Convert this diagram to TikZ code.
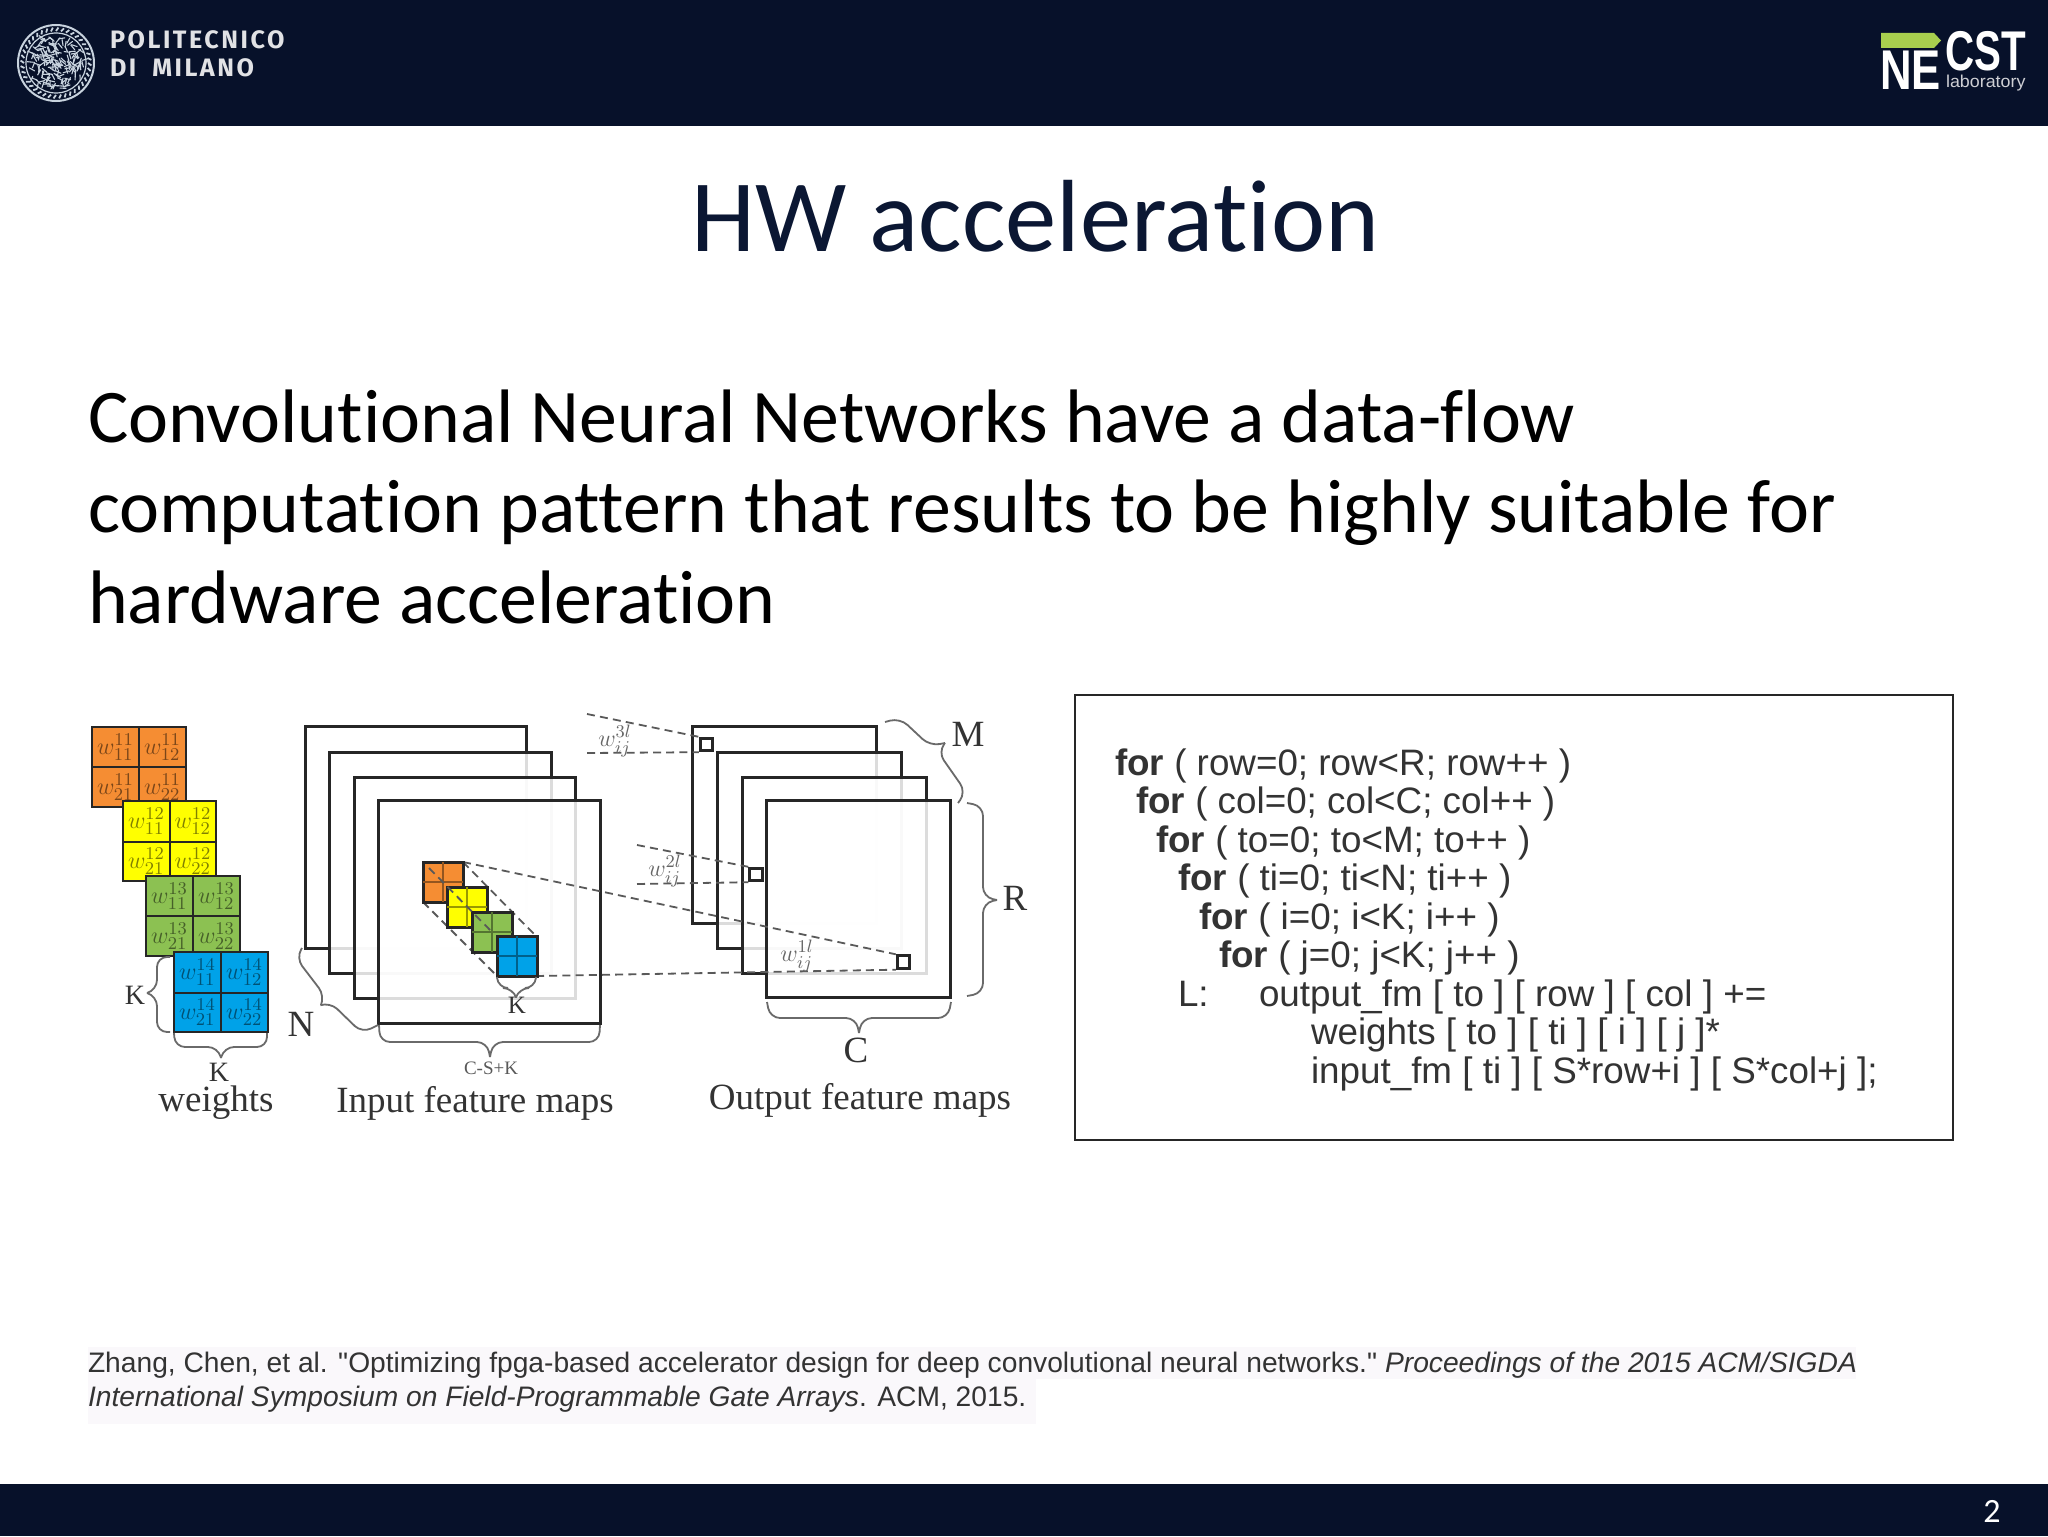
\documentclass[tikz,border=0pt]{standalone}
\usepackage{fontspec}
\setmainfont{Carlito}[Ligatures={NoCommon}]
\newfontfamily\arialf{Liberation Sans}
\newfontfamily\timesf{Liberation Serif}
\newfontfamily\logof{Fira Sans}[LetterSpace=10]
\usetikzlibrary{calc}
\definecolor{navy}{HTML}{07112A}
\definecolor{titlec}{HTML}{0B1733}
\definecolor{seal}{HTML}{C8D3DE}
\definecolor{lime}{HTML}{A8CF4E}
\definecolor{ink}{HTML}{333333}
\definecolor{brc}{HTML}{6A6A6A}
\definecolor{wor}{HTML}{F58D33}
\definecolor{wye}{HTML}{FFFF00}
\definecolor{wgr}{HTML}{8CC152}
\definecolor{wbl}{HTML}{00A2E8}
\definecolor{hl}{HTML}{FAF8FB}
\newcommand{\fsz}[1]{\fontsize{#1}{#1}\selectfont}
\tikzset{
  txt/.style={inner sep=0pt,outer sep=0pt},
  maprect/.style={draw=black!85,line width=1.5pt,fill=white,fill opacity=.84,draw opacity=1},
  dashl/.style={draw=black!65,line width=.9pt,dash pattern=on 4pt off 2.6pt},
  bracel/.style={draw=brc,line width=.9pt,rounded corners=5pt},
  weightbox/.style={draw=black!85,line width=1.3pt},
  codel/.style={txt,anchor=base west,text=ink,font=\arialf\fsz{18.4}},
  serifl/.style={txt,text=ink,font=\timesf\fsz{18.5}},
  wsym/.style={txt,text=black!60,font=\fsz{12.5}},
}
\newcommand{\wblock}[7]{%
  \pgfmathsetmacro\xa{#1+(#3-#1)/2}
  \pgfmathsetmacro\xb{#3+(#2-#3)/2}
  \pgfmathsetmacro\ya{#4+(#6-#4)/2}
  \pgfmathsetmacro\yb{#6+(#5-#6)/2}
  \draw[weightbox,fill=#7] (#1,#4) rectangle (#2,#5);
  \draw[weightbox] (#3,#4) -- (#3,#5) (#1,#6) -- (#2,#6);
}
\newcommand{\wlabels}[2]{%
  \node[wsym,text=#1!50!black] (w#2a) at (\xa,\ya) {\(w^{1#2}_{11}\)};
  \node[wsym,text=#1!50!black] (w#2b) at (\xb,\ya) {\(w^{1#2}_{12}\)};
  \node[wsym,text=#1!50!black] (w#2c) at (\xa,\yb) {\(w^{1#2}_{21}\)};
  \node[wsym,text=#1!50!black] (w#2d) at (\xb,\yb) {\(w^{1#2}_{22}\)};
}
\newcommand{\smallblk}[3]{%
  \draw[weightbox,fill=#3,line width=1.5pt] (#1,#2) rectangle ++(40,40);
  \draw[draw=#3!60!black,line width=.6pt] (#1+20,#2) -- ++(0,40) (#1,#2+20) -- ++(40,0);
}
\begin{document}
\begin{tikzpicture}[x=.5pt,y=-.5pt]
\useasboundingbox (0,0) rectangle (2048,1536);
\fill[white] (0,0) rectangle (2048,1536);
\fill[navy] (0,0) rectangle (2048,126);
\fill[navy] (0,1484) rectangle (2048,1536);

% seal
\begin{scope}[shift={(56,63)}]
  \draw[seal,line width=1pt] (0,0) circle (38);
  \draw[seal,line width=.6pt] (0,0) circle (30);
  \pgfmathsetseed{11}
  \foreach \i in {1,...,170}{
    \pgfmathsetmacro\pa{rnd*360}
    \pgfmathsetmacro\pr{sqrt(rnd)*27}
    \pgfmathsetmacro\qa{rnd*360}
    \draw[seal,line width=.55pt,line cap=round] (\pa:\pr) -- ++(\qa:6);
  }
  \foreach \i in {0,9,...,351}{
    \draw[seal,line width=.9pt] (\i:32) -- (\i+4:35.5);
  }
\end{scope}
\node[txt,anchor=base west,text=white!88!navy,font=\logof\bfseries\fsz{12.6}] (polia) at (110,49) {POLITECNICO};
\node[txt,anchor=base west,text=white!88!navy,font=\logof\bfseries\fsz{12.6}] (polib) at (110,77) {DI\hspace{8pt}MILANO};

% NECST logo
\fill[lime] (1881,33) -- (1934,33) -- (1941,40.5) -- (1934,48) -- (1881,48) -- cycle;
\node[txt,anchor=base west,text=white] (ne) at (1880,90) {\arialf\bfseries\fsz{28}\scalebox{.78}[1]{NE}};
\node[txt,anchor=base west,text=white] (cst) at (1945,71) {\arialf\bfseries\fsz{28}\scalebox{.72}[1]{CST}};
\node[txt,anchor=base west,text=white!80!navy] (lab) at (1946,88) {\arialf\fsz{8.6}\scalebox{1.04}[1]{laboratory}};

% title and body
\node[txt,anchor=base,text=titlec,font=\fsz{51.3}] (title) at (1035,251) {HW acceleration};
\node[txt,anchor=base west,font=\fsz{37.9}] (body1) at (88,442) {Convolutional Neural Networks have a data-flow};
\node[txt,anchor=base west,font=\fsz{37.9}] (body2) at (88,532) {computation pattern that results to be highly suitable for};
\node[txt,anchor=base west,font=\fsz{37.9}] (body3) at (88,623) {hardware acceleration};

% weights
\wblock{92}{186}{139}{727}{807}{767}{wor}\wlabels{wor}{1}
\wblock{123}{216}{170}{801}{881}{842}{wye}\wlabels{wye}{2}
\wblock{146}{240}{193}{876}{956}{916}{wgr}\wlabels{wgr}{3}
\wblock{174}{268}{221}{952}{1032}{993}{wbl}\wlabels{wbl}{4}

% input maps
\draw[maprect] (305,726) rectangle (526,948);
\draw[maprect] (329,752) rectangle (551,973);
\draw[maprect] (354,777) rectangle (575,998);
\draw[maprect] (378,800) rectangle (600,1023);

% output maps
\draw[maprect] (692,726) rectangle (876,923);
\draw[maprect] (717,752) rectangle (901,948);
\draw[maprect] (742,777) rectangle (926,973);
\draw[maprect] (766,800) rectangle (950,997);

% small squares
\node[draw=black!85,line width=1.4pt,fill=white,minimum size=6.3pt,inner sep=0pt] (sq3) at (706.5,744.5) {};
\node[draw=black!85,line width=1.4pt,fill=white,minimum size=6.3pt,inner sep=0pt] (sq2) at (756,874.5) {};
\node[draw=black!85,line width=1.4pt,fill=white,minimum size=6.3pt,inner sep=0pt] (sq1) at (903.5,962) {};

% coordinates of dashed lines
\coordinate (oTR) at (463,862);
\coordinate (oBL) at (423,902);
\coordinate (bTR) at (536,936);
\coordinate (bBL) at (497,976);
\coordinate (bBR) at (536,976);
\coordinate (a3) at (587,714);
\coordinate (b3) at (587,753);
\coordinate (a2) at (637,845);
\coordinate (b2) at (637,884);

\draw[dashl] (oTR) -- (bTR);
\draw[dashl] (oBL) -- (bBL);
\draw[dashl] (oTR) -- (sq1.north west);
\draw[dashl] (bBR) -- (sq1.south west);
\draw[dashl] (a3) -- (sq3.north west);
\draw[dashl] (b3) -- (sq3.south west);
\draw[dashl] (a2) -- (sq2.north west);
\draw[dashl] (b2) -- (sq2.south west);

% small weight blocks
\smallblk{423}{862}{wor}
\smallblk{447}{887}{wye}
\smallblk{472}{912}{wgr}
\draw[dashl] (429,868) -- (490,930);
\smallblk{497}{936}{wbl}

\node[txt,text=black!60,font=\fsz{12.5}] (w3) at (615,741) {\(w_{ij}^{3l}\)};
\node[txt,text=black!60,font=\fsz{12.5}] (w2) at (665,871) {\(w_{ij}^{2l}\)};
\node[txt,text=black!60,font=\fsz{12.5}] (w1) at (797,956) {\(w_{ij}^{1l}\)};

% braces
\draw[bracel] (147,993) -- (157,990) -- (157,957) -- (170,957);
\draw[bracel] (147,993) -- (157,996) -- (157,1032) -- (170,1032);
\draw[bracel] (221,1058) -- (218,1047) -- (175,1047) -- (174,1033);
\draw[bracel] (221,1058) -- (224,1047) -- (267,1047) -- (267,1033);
\draw[bracel] (490,1057) -- (487,1042) -- (380,1042) -- (379,1025);
\draw[bracel] (490,1057) -- (493,1042) -- (599,1042) -- (600,1025);
\draw[bracel] (516,997) -- (513,988) -- (498,988) -- (497,977);
\draw[bracel] (516,997) -- (519,988) -- (535,988) -- (536,977);
\draw[bracel] (859,1033) -- (856,1018) -- (770,1018) -- (767,1002);
\draw[bracel] (859,1033) -- (862,1018) -- (948,1018) -- (951,1002);
\draw[bracel] (997,900) -- (983,897) -- (983,806) -- (967,803);
\draw[bracel] (997,900) -- (983,903) -- (983,993) -- (967,996);
\draw[bracel] (321,1005) -- (325,996) -- (296,958) -- (302,948);
\draw[bracel] (321,1005) -- (330,1002) -- (362,1033) -- (378,1025);
\draw[bracel] (945,743) -- (930,746) -- (900,718) -- (885,722);
\draw[bracel] (945,743) -- (938,752) -- (966,792) -- (958,803);

% labels
\node[serifl,font=\timesf\fsz{14}] (k1) at (135,995) {K};
\node[serifl,font=\timesf\fsz{14}] (k2) at (219,1072) {K};
\node[serifl,font=\timesf\fsz{12.5}] (k3) at (517,1005) {K};
\node[serifl,font=\timesf\fsz{9.5},text=black!65] (csk) at (491,1068) {C-S+K};
\node[serifl,font=\timesf\fsz{18.5}] (nn) at (301,1024) {N};
\node[serifl,font=\timesf\fsz{18.5}] (mm) at (968,734) {M};
\node[serifl,font=\timesf\fsz{18.5}] (rr) at (1015,898) {R};
\node[serifl,font=\timesf\fsz{18.5}] (cc) at (856,1050) {C};
\node[serifl] (lw) at (216,1103) {weights};
\node[serifl] (li) at (475,1103) {Input feature maps};
\node[serifl] (lo) at (860,1100) {Output feature maps};

% code panel
\draw[draw=black!85,line width=1.2pt,fill=white] (1075,695) rectangle (1953,1140);
\node[codel] (c1) at (1115,775) {\textbf{for} ( row=0; row<R; row++ )};
\node[codel] (c2) at (1136,813) {\textbf{for} ( col=0; col<C; col++ )};
\node[codel] (c3) at (1156,852) {\textbf{for} ( to=0; to<M; to++ )};
\node[codel] (c4) at (1178,890) {\textbf{for} ( ti=0; ti<N; ti++ )};
\node[codel] (c5) at (1199,929) {\textbf{for} ( i=0; i<K; i++ )};
\node[codel] (c6) at (1219,967) {\textbf{for} ( j=0; j<K; j++ )};
\node[codel] (c7) at (1178,1006) {L:};
\node[codel] (c8) at (1259,1006) {output\_fm [ to ] [ row ] [ col ] +=};
\node[codel] (c9) at (1311,1044) {weights [ to ] [ ti ] [ i ] [ j ]*};
\node[codel] (c10) at (1311,1083) {input\_fm [ ti ] [ S*row+i ] [ S*col+j ];};

% citation
\fill[hl] (88,1347) rectangle (1856,1379);
\fill[hl] (88,1379) rectangle (1036,1424);
\node[txt,anchor=base west,text=ink,font=\arialf\fsz{14.1}] (cit1) at (88,1372) {Zhang, Chen, et al. "Optimizing fpga-based accelerator design for deep convolutional neural networks." \textit{Proceedings of the 2015 ACM/SIGDA}};
\node[txt,anchor=base west,text=ink,font=\arialf\fsz{14.1}] (cit2) at (88,1406) {\textit{International Symposium on Field-Programmable Gate Arrays}. ACM, 2015.};

\node[txt,text=white,font=\fsz{17}] (pg) at (1992,1511) {2};
\end{tikzpicture}
\end{document}
